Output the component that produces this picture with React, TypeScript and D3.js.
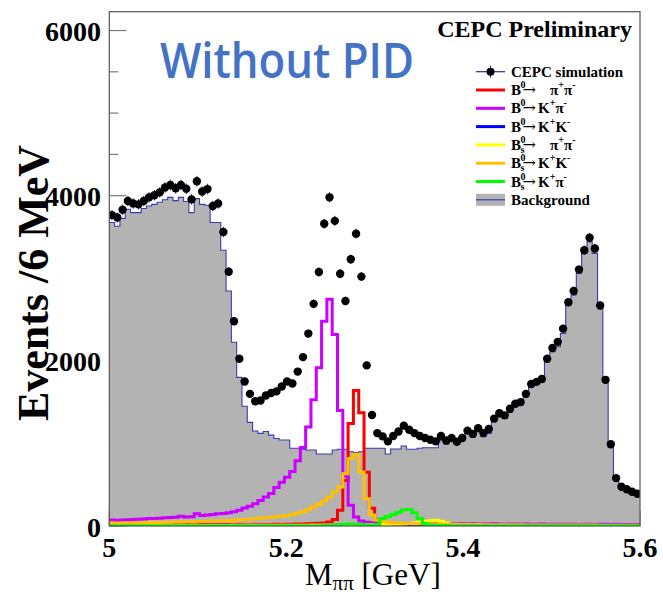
import React from 'react';
import * as d3 from 'd3';

// ---- axis definitions ----
const X_MIN = 5.0;
const X_MAX = 5.6;
const N_BINS = 100;
const Y_MAX = 6228;

const xTicks = [5, 5.2, 5.4, 5.6];
const xTickLabels = ['5', '5.2', '5.4', '5.6'];
const xMinorTicks = [5.05, 5.1, 5.15, 5.25, 5.3, 5.35, 5.45, 5.5, 5.55];
const yTicks = [0, 2000, 4000, 6000];
const yTickLabels = ['0', '2000', '4000', '6000'];
const yMinorTicks = [500, 1000, 1500, 2500, 3000, 3500, 4500, 5000, 5500];

// ---- data (events per 6 MeV bin, 100 bins from 5.0 to 5.6 GeV) ----
const background = [
  3675, 3630, 3725, 3835, 3795, 3795, 3845, 3875, 3895, 3920,
  3950, 3980, 3940, 3980, 3930, 3795, 3965, 3895, 3885, 3675,
  3675, 3340, 2845, 2225, 1800, 1450, 1255, 1150, 1122, 1145,
  1100, 1060, 1041, 1041, 941, 941, 929, 920, 920, 872,
  872, 872, 920, 929, 929, 900, 888, 900, 941, 941,
  941, 941, 872, 932, 932, 969, 929, 929, 941, 948,
  948, 948, 1033, 993, 1033, 993, 1033, 1122, 1082, 1142,
  1082, 1122, 1263, 1324, 1304, 1377, 1445, 1465, 1566, 1687,
  1716, 1748, 1990, 2111, 2171, 2333, 2676, 2797, 3060, 3302,
  3443, 3302, 2636, 1748, 960, 557, 456, 415, 388, 363,
];

const simulation = [
  3765, 3735, 3830, 3935, 3905, 3895, 3935, 3980, 4005, 4040,
  4100, 4130, 4090, 4130, 4085, 3955, 4175, 4050, 4080, 3875,
  3905, 3560, 3080, 2480, 2025, 1750, 1600, 1510, 1520, 1580,
  1610, 1630, 1690, 1750, 1725, 1870, 2045, 2330, 2690, 3075,
  3660, 3980, 3695, 3055, 2725, 3230, 3540, 3020, 1945, 1345,
  1125, 1085, 1025, 1090, 1145, 1215, 1165, 1125, 1090, 1065,
  1045, 1025, 1090, 1035, 1065, 1020, 1065, 1155, 1115, 1185,
  1125, 1175, 1300, 1365, 1340, 1420, 1480, 1500, 1600, 1720,
  1745, 1780, 2025, 2155, 2230, 2390, 2710, 2845, 3105, 3340,
  3490, 3360, 2670, 1770, 990, 580, 475, 445, 415, 390,
];

const b0PiPi = [
  12, 10, 14, 11, 13, 10, 14, 12, 11, 15,
  13, 12, 14, 11, 15, 13, 12, 16, 14, 13,
  15, 14, 16, 15, 17, 16, 15, 18, 17, 19,
  18, 20, 19, 21, 22, 23, 25, 27, 29, 32,
  36, 48, 80, 190, 550, 1240, 1640, 1370, 650, 215,
  80, 40, 25, 20, 18, 16, 15, 14, 14, 13,
  12, 12, 11, 11, 10, 10, 10, 9, 9, 9,
  9, 8, 8, 8, 8, 8, 7, 7, 7, 7,
  7, 7, 6, 6, 6, 6, 6, 6, 6, 5,
  5, 5, 5, 5, 5, 5, 5, 5, 5, 5,
];

const b0KPi = [
  72, 70, 74, 76, 80, 82, 84, 90, 92, 95,
  100, 102, 106, 118, 108, 112, 148, 128, 132, 138,
  148, 152, 160, 172, 190, 218, 240, 270, 310, 350,
  395, 465, 530, 590, 660, 790, 950, 1200, 1530, 1915,
  2480, 2745, 2320, 1400, 600, 250, 110, 60, 45, 40,
  35, 32, 30, 32, 28, 30, 29, 27, 30, 28,
  26, 27, 25, 28, 26, 24, 27, 25, 26, 24,
  25, 23, 26, 24, 22, 25, 23, 22, 24, 22,
  21, 23, 22, 20, 22, 21, 20, 22, 19, 21,
  20, 19, 21, 20, 18, 20, 19, 18, 19, 18,
];

const b0KK = [
  2, 3, 2, 2, 3, 2, 2, 3, 2, 2,
  3, 2, 2, 3, 2, 2, 3, 2, 3, 2,
  3, 3, 2, 3, 3, 3, 3, 4, 3, 4,
  4, 4, 5, 5, 5, 6, 6, 7, 8, 9,
  10, 12, 13, 14, 15, 15, 14, 12, 10, 8,
  6, 5, 4, 4, 3, 3, 3, 3, 2, 2,
  2, 2, 2, 1, 2, 2, 1, 2, 2, 1,
  2, 1, 2, 2, 1, 2, 1, 1, 2, 1,
  1, 2, 1, 1, 1, 2, 1, 1, 1, 1,
  1, 1, 1, 1, 1, 1, 1, 1, 1, 1,
];

const bsPiPi = [
  4, 4, 4, 5, 5, 5, 5, 5, 5, 6,
  6, 6, 6, 6, 6, 6, 7, 7, 7, 7,
  7, 7, 7, 8, 8, 8, 8, 8, 8, 9,
  9, 9, 9, 9, 10, 10, 10, 10, 11, 11,
  11, 12, 12, 12, 13, 13, 14, 14, 15, 15,
  16, 17, 18, 20, 22, 25, 30, 36, 44, 55,
  65, 70, 58, 35, 18, 9, 6, 5, 5, 4,
  4, 4, 4, 4, 4, 4, 3, 3, 3, 3,
  3, 3, 3, 3, 3, 3, 3, 3, 3, 3,
  3, 3, 3, 3, 3, 3, 3, 3, 3, 3,
];

const bsKK = [
  35, 34, 36, 37, 38, 38, 40, 41, 42, 43,
  45, 46, 48, 49, 51, 52, 55, 56, 58, 60,
  62, 65, 68, 71, 75, 78, 82, 87, 93, 100,
  106, 112, 118, 128, 138, 153, 173, 201, 230, 262,
  302, 351, 412, 472, 634, 816, 868, 654, 331, 133,
  73, 53, 45, 40, 36, 33, 30, 28, 27, 25,
  24, 23, 22, 21, 20, 19, 19, 18, 17, 17,
  16, 16, 15, 15, 15, 14, 14, 14, 13, 13,
  13, 13, 12, 12, 12, 12, 12, 11, 11, 11,
  11, 11, 10, 10, 10, 10, 10, 10, 10, 10,
];

const bsKPi = [
  3, 2, 3, 3, 2, 3, 3, 2, 3, 3,
  2, 3, 3, 2, 3, 3, 3, 2, 3, 3,
  3, 2, 3, 3, 3, 3, 2, 3, 3, 3,
  3, 3, 3, 3, 3, 4, 3, 4, 4, 4,
  5, 6, 12, 18, 22, 24, 22, 18, 12, 10,
  18, 90, 115, 140, 165, 198, 200, 160, 92, 30,
  12, 8, 6, 5, 4, 4, 4, 3, 4, 3,
  4, 3, 3, 4, 3, 3, 3, 4, 3, 3,
  3, 3, 3, 3, 3, 3, 3, 3, 3, 3,
  3, 3, 3, 3, 3, 3, 3, 3, 3, 3,
];

const signals = [
  { name: 'b0PiPi', values: b0PiPi, color: '#ff0000' },
  { name: 'b0KPi', values: b0KPi, color: '#cc00ff' },
  { name: 'b0KK', values: b0KK, color: '#0000ff' },
  { name: 'bsPiPi', values: bsPiPi, color: '#ffff00' },
  { name: 'bsKK', values: bsKK, color: '#ffc000' },
  { name: 'bsKPi', values: bsKPi, color: '#00ff00' },
];

// legend rows
const legendRows = [
  { color: '#ff0000', bs: false, parts: [['π', '+'], ['π', '-']], gap: true },
  { color: '#cc00ff', bs: false, parts: [['K', '+'], ['π', '-']], gap: false },
  { color: '#0000ff', bs: false, parts: [['K', '+'], ['K', '-']], gap: false },
  { color: '#ffff00', bs: true, parts: [['π', '+'], ['π', '-']], gap: true },
  { color: '#ffc000', bs: true, parts: [['K', '+'], ['K', '-']], gap: false },
  { color: '#00ff00', bs: true, parts: [['K', '+'], ['π', '-']], gap: false },
];

// ---- layout ----
const W = 663;
const H = 599;
const L = 109.3;
const R = 640;
const T = 11.7;
const B = 526;
const SERIF = '"Liberation Serif", "DejaVu Serif", serif';

export default function App() {
  const x = d3.scaleLinear().domain([X_MIN, X_MAX]).range([L, R]);
  const y = d3.scaleLinear().domain([0, Y_MAX]).range([B, T]);
  const binW = (X_MAX - X_MIN) / N_BINS;
  const edge = (i: number) => X_MIN + i * binW;

  const stepPts = (vals: number[]): [number, number][] => [
    ...vals.map((v, i) => [x(edge(i)), y(v)] as [number, number]),
    [x(edge(vals.length)), y(vals[vals.length - 1])] as [number, number],
  ];
  const line = d3.line<[number, number]>().curve(d3.curveStepAfter);
  const area = d3
    .area<[number, number]>()
    .curve(d3.curveStepAfter)
    .x((d) => d[0])
    .y0(y(0))
    .y1((d) => d[1]);

  const bgPts = stepPts(background);

  const legY0 = 71.7;
  const legDy = 18.3;

  return (
    <svg
      width={W}
      height={H}
      viewBox={`0 0 ${W} ${H}`}
      style={{ position: 'absolute', left: 0, top: 0, background: '#fff' }}
    >
      <defs>
        <clipPath id="frame">
          <rect x={L} y={T} width={R - L} height={B - T} />
        </clipPath>
      </defs>

      {/* ticks (under the histograms) */}
      {yTicks.map((t) => (
        <line key={'yt' + t} x1={L} x2={L + 17} y1={y(t)} y2={y(t)} stroke="#7a7a7a" strokeWidth={1.2} />
      ))}
      {yMinorTicks.map((t) => (
        <line key={'ym' + t} x1={L} x2={L + 9} y1={y(t)} y2={y(t)} stroke="#7a7a7a" strokeWidth={1.2} />
      ))}
      {xTicks.map((t) => (
        <line key={'xt' + t} x1={x(t)} x2={x(t)} y1={B} y2={B - 15} stroke="#7a7a7a" strokeWidth={1.2} />
      ))}
      {xMinorTicks.map((t) => (
        <line key={'xm' + t} x1={x(t)} x2={x(t)} y1={B} y2={B - 8} stroke="#7a7a7a" strokeWidth={1.2} />
      ))}

      <g clipPath="url(#frame)">
        {/* background */}
        <path d={area(bgPts) || ''} fill="#b3b3b3" />
        <path d={line(bgPts) || ''} fill="none" stroke="#3a3ab4" strokeWidth={1.1} />

        {/* signal components */}
        {signals.map((s) => (
          <path
            key={s.name}
            d={line(stepPts(s.values)) || ''}
            fill="none"
            stroke={s.color}
            strokeWidth={3}
          />
        ))}

        {/* simulation points */}
        {simulation.map((v, i) => {
          const cx = x(edge(i) + binW / 2);
          const e = Math.sqrt(v);
          return (
            <g key={'d' + i}>
              <line x1={cx} x2={cx} y1={y(v + e)} y2={y(v - e)} stroke="#23239a" strokeWidth={1} />
              <circle cx={cx} cy={y(v)} r={4.2} fill="#000" />
            </g>
          );
        })}
      </g>

      {/* frame */}
      <rect x={L} y={T} width={R - L} height={B - T} fill="none" stroke="#555" strokeWidth={1.2} />

      {/* tick labels */}
      {yTicks.map((t, i) => (
        <text
          key={'yl' + t}
          x={101}
          y={y(t) + 10.5}
          textAnchor="end"
          fontFamily={SERIF}
          fontWeight="bold"
          fontSize={28}
          fill="#000"
        >
          {yTickLabels[i]}
        </text>
      ))}
      {xTicks.map((t, i) => (
        <text
          key={'xl' + t}
          x={x(t)}
          y={557}
          textAnchor="middle"
          fontFamily={SERIF}
          fontWeight="bold"
          fontSize={28}
          fill="#000"
        >
          {xTickLabels[i]}
        </text>
      ))}

      {/* axis titles */}
      <text
        transform="translate(48,283) rotate(-90)"
        textAnchor="middle"
        fontFamily={SERIF}
        fontWeight="bold"
        fontSize={44}
        fill="#000"
      >
        Events /6 MeV
      </text>
      <text x={305} y={585} fontFamily={SERIF} fontSize={31} fill="#000">
        M
        <tspan fontSize={21} dy={5}>ππ</tspan>
        <tspan fontSize={31} dy={-5}> [GeV]</tspan>
      </text>

      {/* labels */}
      <text x={632} y={37} textAnchor="end" fontFamily={SERIF} fontWeight="bold" fontSize={24} fill="#000">
        CEPC Preliminary
      </text>
      <text
        x={160}
        y={78}
        fontFamily={'"Open Sans", "Noto Sans", sans-serif'}
        fontSize={48}
        fontWeight={600}
        fill="#4472c4"
        textLength={254}
        lengthAdjust="spacingAndGlyphs"
      >
        Without PID
      </text>

      {/* legend */}
      <g fontFamily={SERIF} fontWeight="bold" fill="#000">
        {/* simulation */}
        <line x1={476} x2={505} y1={legY0} y2={legY0} stroke="#2a2aa8" strokeWidth={1.2} />
        <line x1={490.5} x2={490.5} y1={legY0 - 6} y2={legY0 + 6} stroke="#2a2aa8" strokeWidth={1} />
        <circle cx={490.5} cy={legY0} r={4} fill="#000" />
        <text x={511} y={legY0 + 5} fontSize={15}>CEPC simulation</text>

        {legendRows.map((row, k) => {
          const cy = legY0 + legDy * (k + 1);
          const base = cy + 5;
          const startX = row.gap ? 550 : 538;
          return (
            <g key={'lg' + k}>
              <line x1={476} x2={505} y1={cy} y2={cy} stroke={row.color} strokeWidth={3} />
              <text x={511} y={base} fontSize={15}>
                B
                <tspan x={520.5} dy={-7} fontSize={10}>0</tspan>
                {row.bs ? (
                  <>
                    <tspan x={520.5} dy={10} fontSize={10}>s</tspan>
                    <tspan x={522.5} dy={-3} fontSize={16} fontFamily='"DejaVu Serif", serif' fontWeight="normal">→</tspan>
                  </>
                ) : (
                  <tspan x={522.5} dy={7} fontSize={16} fontFamily='"DejaVu Serif", serif' fontWeight="normal">→</tspan>
                )}
                <tspan x={startX} fontSize={15}>{row.parts[0][0]}</tspan>
                <tspan fontSize={10} dy={-7}>{row.parts[0][1]}</tspan>
                <tspan fontSize={15} dy={7}>{row.parts[1][0]}</tspan>
                <tspan fontSize={10} dy={-7}>{row.parts[1][1]}</tspan>
              </text>
            </g>
          );
        })}

        {/* background entry */}
        <rect x={476} y={legY0 + legDy * 7 - 6} width={29} height={12} fill="#b3b3b3" />
        <line
          x1={476}
          x2={505}
          y1={legY0 + legDy * 7}
          y2={legY0 + legDy * 7}
          stroke="#3a3ab4"
          strokeWidth={1.2}
        />
        <text x={511} y={legY0 + legDy * 7 + 5} fontSize={15}>Background</text>
      </g>
    </svg>
  );
}
